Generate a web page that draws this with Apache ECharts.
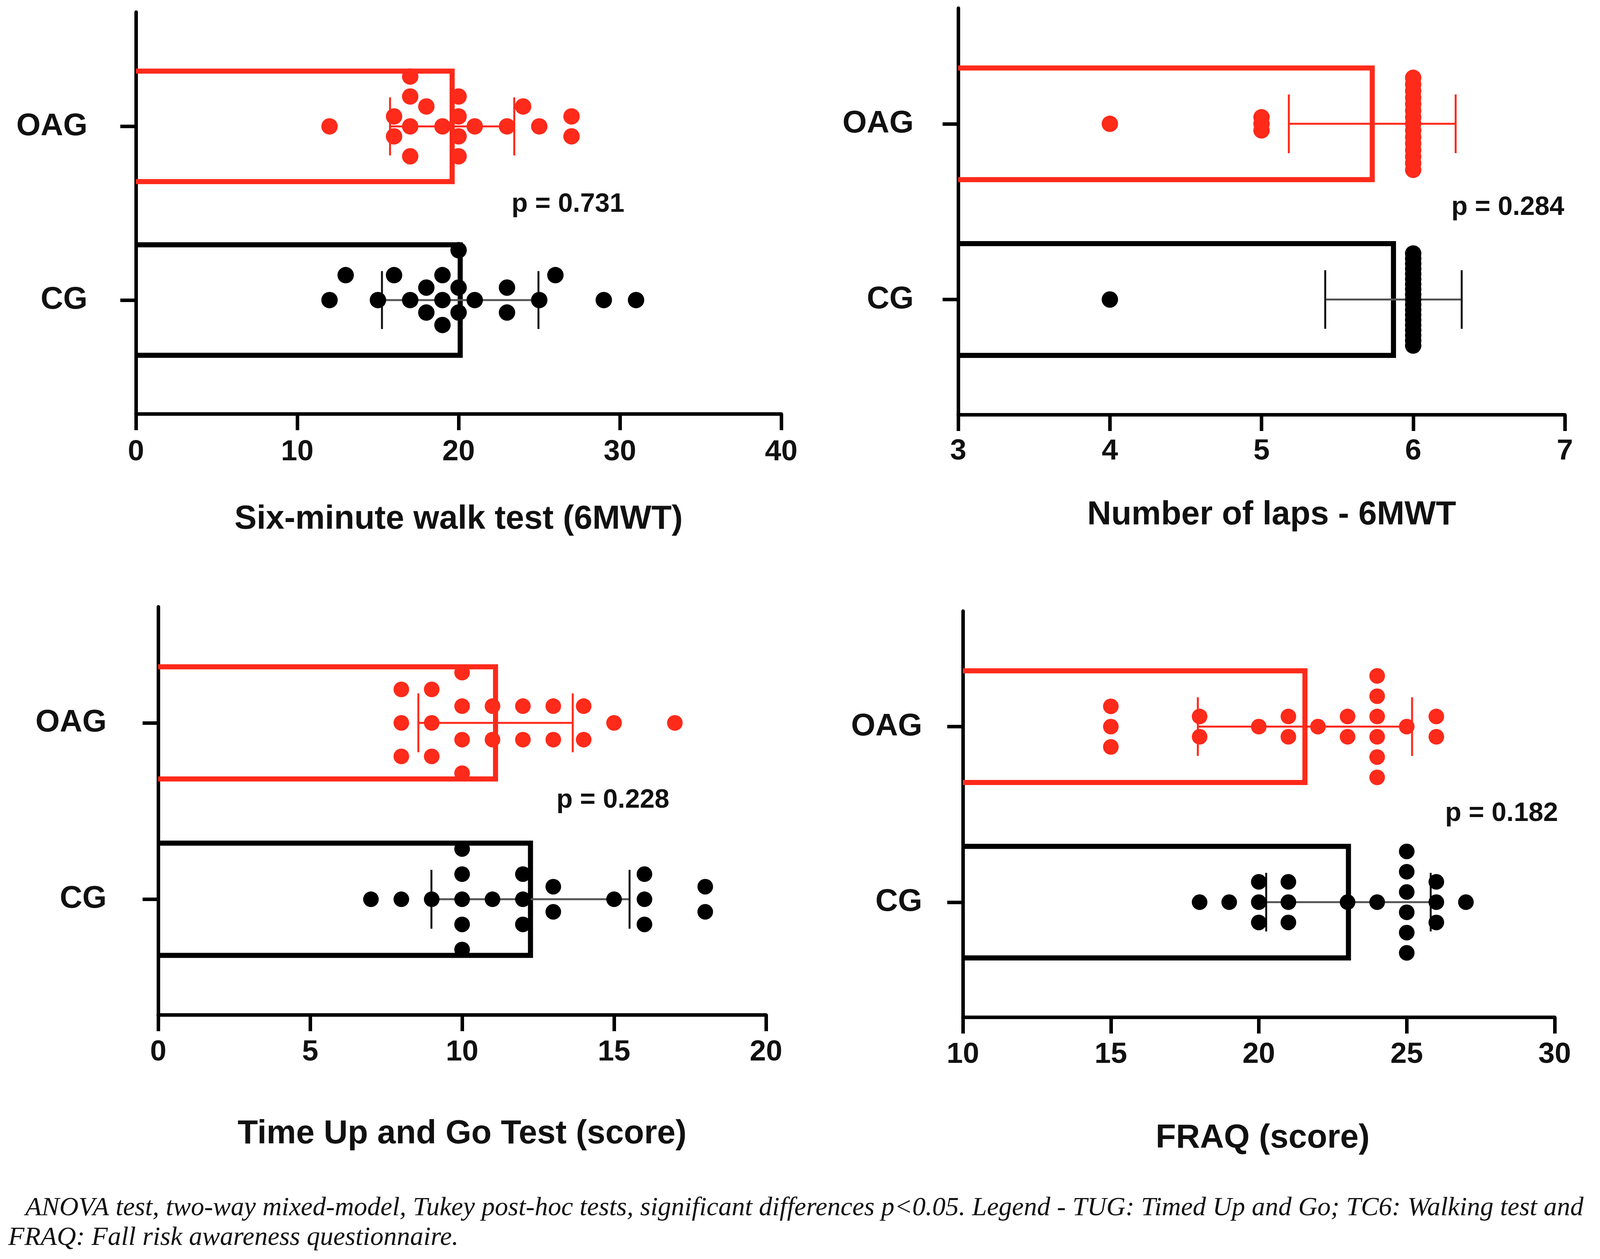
<!DOCTYPE html>
<html><head><meta charset="utf-8">
<script src="https://cdn.jsdelivr.net/npm/echarts@6/dist/echarts.min.js"></script>
<style>html,body{margin:0;padding:0;background:#fff}#c{width:4099px;height:3222px}</style>
</head><body><div id="c"></div>
<script>
// ---------- DATA ----------
const groups = ['CG', 'OAG'];

const walkCG  = [12, 13, 15, 16, 17, 18, 18, 19, 19, 19, 20, 20, 20, 21, 23, 23, 25, 26, 29, 31];
const walkOAG = [12, 16, 16, 17, 17, 17, 17, 18, 19, 20, 20, 20, 20, 21, 23, 24, 25, 27, 27];
const walkMean = [20.1, 19.6];
const walkSD   = [4.85, 3.85];

const lapsCG  = [4, 6, 6, 6, 6, 6, 6, 6, 6, 6, 6, 6, 6, 6, 6, 6, 6, 6, 6, 6];
const lapsOAG = [4, 5, 5, 5, 6, 6, 6, 6, 6, 6, 6, 6, 6, 6, 6, 6, 6, 6, 6];
const lapsMean = [5.87, 5.73];
const lapsSD   = [0.45, 0.55];

const tugCG  = [7, 8, 9, 10, 10, 10, 10, 10, 11, 12, 12, 12, 13, 13, 15, 16, 16, 16, 18, 18];
const tugOAG = [8, 8, 8, 9, 9, 9, 10, 10, 10, 10, 11, 11, 12, 12, 13, 13, 14, 14, 15, 17];
const tugMean = [12.25, 11.1];
const tugSD   = [3.26, 2.54];

const fraqCG  = [18, 19, 20, 20, 20, 21, 21, 21, 23, 24, 25, 25, 25, 25, 25, 25, 26, 26, 26, 27];
const fraqOAG = [15, 15, 15, 18, 18, 20, 21, 21, 22, 23, 23, 24, 24, 24, 24, 24, 24, 25, 26, 26];
const fraqMean = [23.03, 21.56];
const fraqSD   = [2.78, 3.62];

const axisTitles = ['Six-minute walk test (6MWT)', 'Number of laps - 6MWT', 'Time Up and Go Test (score)', 'FRAQ (score)'];
const axisMin = [0, 3, 0, 10];
const axisMax = [40, 7, 20, 30];
const axisStep = [10, 1, 5, 5];
const pValues = ['p = 0.731', 'p = 0.284', 'p = 0.228', 'p = 0.182'];
const caption = [
  'ANOVA test, two-way mixed-model, Tukey post-hoc tests, significant differences p<0.05. Legend - TUG: Timed Up and Go; TC6: Walking test and',
  'FRAQ: Fall risk awareness questionnaire.'
];

// ---------- LAYOUT / STYLE ----------
const RED = '#fe2a1a';
const BLACK = '#000000';
const FONT = 'Liberation Sans';
const layout = [
  {left: 348,  top: 31,   width: 1652, height: 1028, yMargin: 124, nameGap: 228, namePad: [0, 0, 0, 0],  tickGap: 61, dot: 42, limit: 0.287, p: [1454, 523]},
  {left: 2453, top: 21,   width: 1553, height: 1040, yMargin: 114, nameGap: 215, namePad: [0, 0, 0, 52], tickGap: 57, dot: 42, limit: 0.262, p: [3860, 531]},
  {left: 405,  top: 1553, width: 1556, height: 1044, yMargin: 132, nameGap: 263, namePad: [0, 0, 0, 0],  tickGap: 59, dot: 40, limit: 0.285, p: [1569, 2048]},
  {left: 2465, top: 1564, width: 1515, height: 1039, yMargin: 104, nameGap: 268, namePad: [0, 0, 0, 20], tickGap: 59, dot: 40, limit: 0.289, p: [3844, 2082]}
];
const Y_MIN = 0.345, Y_MAX = 2.658;
const BAR_HALF = 0.318, WHISKER_HALF = 0.167, STEP_U = 0.19, DX_PX = 46;

const panelData = [
  {cg: walkCG, oag: walkOAG, mean: walkMean, sd: walkSD},
  {cg: lapsCG, oag: lapsOAG, mean: lapsMean, sd: lapsSD},
  {cg: tugCG, oag: tugOAG, mean: tugMean, sd: tugSD},
  {cg: fraqCG, oag: fraqOAG, mean: fraqMean, sd: fraqSD}
];

// beeswarm row offsets (y units), computed from the values
function swarmOffsets(values, pxPerUnit, stepU, limitU) {
  const n = values.length;
  const order = values.map((v, i) => i).sort((a, b) => values[a] - values[b] || a - b);
  const counts = {};
  values.forEach(v => counts[v] = (counts[v] || 0) + 1);
  const cands = [];
  for (let h = -60; h <= 60; h++) cands.push(h / 2);
  const placed = [];
  const ks = new Array(n).fill(0);
  order.forEach(i => {
    const v = values[i];
    const even = counts[v] % 2 === 0;
    const cost = k => Math.abs(k) + ((Number.isInteger(k) === even) ? 0.6 : 0);
    const sorted = cands.slice().sort((a, b) => cost(a) - cost(b) || b - a);
    for (const k of sorted) {
      let ok = true;
      for (const p of placed) {
        const dx = Math.abs(v - p.v) * pxPerUnit;
        if (dx >= DX_PX) continue;
        if ((dx / DX_PX) ** 2 + (k - p.k) ** 2 < 1 - 1e-9) { ok = false; break; }
      }
      if (ok) { ks[i] = k; placed.push({v: v, k: k}); break; }
    }
  });
  const maxK = Math.max(...ks.map(Math.abs));
  const step = maxK > 0 ? Math.min(stepU, limitU / maxK) : stepU;
  return ks.map(k => k * step);
}

const grids = [], xAxes = [], yAxes = [], series = [], graphics = [];

panelData.forEach((pd, i) => {
  const L = layout[i];
  const xmin = axisMin[i];
  grids.push({left: L.left, top: L.top, width: L.width, height: L.height, containLabel: false});
  xAxes.push({
    gridIndex: i, type: 'value', min: axisMin[i], max: axisMax[i], interval: axisStep[i],
    axisLine: {show: true, onZero: false, lineStyle: {color: BLACK, width: 9}},
    axisTick: {show: true, length: 42, lineStyle: {color: BLACK, width: 9}},
    axisLabel: {margin: L.tickGap, fontSize: 75, fontWeight: 'bold', fontFamily: FONT, color: '#111'},
    splitLine: {show: false},
    name: axisTitles[i], nameLocation: 'middle', nameGap: L.nameGap,
    nameTextStyle: {fontSize: 85, fontWeight: 'bold', fontFamily: FONT, color: '#111', padding: L.namePad}
  });
  yAxes.push({
    gridIndex: i, type: 'value', min: Y_MIN, max: Y_MAX,
    axisLine: {show: true, onZero: false, lineStyle: {color: BLACK, width: 9}},
    axisTick: {show: true, length: 40, customValues: [1, 2], lineStyle: {color: BLACK, width: 9}},
    axisLabel: {customValues: [1, 2], formatter: v => groups[Math.round(v) - 1], margin: L.yMargin,
      fontSize: 80, fontWeight: 'bold', fontFamily: FONT, color: '#111'},
    splitLine: {show: false}
  });

  const colors = [BLACK, RED];
  // bars (outlined, no left edge)
  series.push({
    type: 'custom', xAxisIndex: i, yAxisIndex: i, z: 3, silent: true,
    data: groups.map((g, gi) => [pd.mean[gi], gi + 1, gi]),
    renderItem: function (params, api) {
      const m = api.value(0), gy = api.value(1), c = colors[api.value(2)];
      const a = api.coord([xmin, gy + BAR_HALF]);
      const b = api.coord([m, gy + BAR_HALF]);
      const cc = api.coord([m, gy - BAR_HALF]);
      const d = api.coord([xmin, gy - BAR_HALF]);
      return {type: 'polyline', shape: {points: [a, b, cc, d]},
        style: {fill: null, stroke: c, lineWidth: 13, lineJoin: 'miter'}};
    }
  });
  // error bars (mean ± SD)
  const errColors = [['#555555', '#111111'], [RED, RED]];
  series.push({
    type: 'custom', xAxisIndex: i, yAxisIndex: i, z: 4, silent: true,
    data: groups.map((g, gi) => [pd.mean[gi], pd.sd[gi], gi + 1, gi]),
    renderItem: function (params, api) {
      const m = api.value(0), s = api.value(1), gy = api.value(2), ec = errColors[api.value(3)];
      const l = api.coord([m - s, gy]), r = api.coord([m + s, gy]);
      const lt = api.coord([m - s, gy + WHISKER_HALF]), lb = api.coord([m - s, gy - WHISKER_HALF]);
      const rt = api.coord([m + s, gy + WHISKER_HALF]), rb = api.coord([m + s, gy - WHISKER_HALF]);
      return {type: 'group', children: [
        {type: 'line', shape: {x1: l[0], y1: l[1], x2: r[0], y2: r[1]}, style: {stroke: ec[0], lineWidth: 5}},
        {type: 'line', shape: {x1: lt[0], y1: lt[1], x2: lb[0], y2: lb[1]}, style: {stroke: ec[1], lineWidth: 5}},
        {type: 'line', shape: {x1: rt[0], y1: rt[1], x2: rb[0], y2: rb[1]}, style: {stroke: ec[1], lineWidth: 5}}
      ]};
    }
  });
  // individual points (beeswarm)
  const pxPerUnit = L.width / (axisMax[i] - axisMin[i]);
  [pd.cg, pd.oag].forEach((vals, gi) => {
    const offs = swarmOffsets(vals, pxPerUnit, STEP_U, L.limit);
    series.push({
      type: 'scatter', xAxisIndex: i, yAxisIndex: i, z: 5, silent: true,
      symbol: 'circle', symbolSize: L.dot,
      itemStyle: {color: colors[gi], opacity: 1},
      data: vals.map((v, k) => [v, gi + 1 + offs[k]])
    });
  });
  graphics.push({
    type: 'text', x: L.p[0], y: L.p[1], z: 10,
    style: {text: pValues[i], fill: '#111', font: 'bold 68px "' + FONT + '"', textAlign: 'center', textVerticalAlign: 'middle'}
  });
});

graphics.push({type: 'text', x: 65, y: 3092, style: {text: caption[0], fill: '#111', font: 'italic 68px "Liberation Serif"', textAlign: 'left', textVerticalAlign: 'middle'}});
graphics.push({type: 'text', x: 21, y: 3168, style: {text: caption[1], fill: '#111', font: 'italic 68px "Liberation Serif"', textAlign: 'left', textVerticalAlign: 'middle'}});

const chart = echarts.init(document.getElementById('c'), null, {renderer: 'canvas'});
chart.setOption({
  animation: false,
  backgroundColor: '#ffffff',
  grid: grids, xAxis: xAxes, yAxis: yAxes, series: series, graphic: graphics
});
</script></body></html>
